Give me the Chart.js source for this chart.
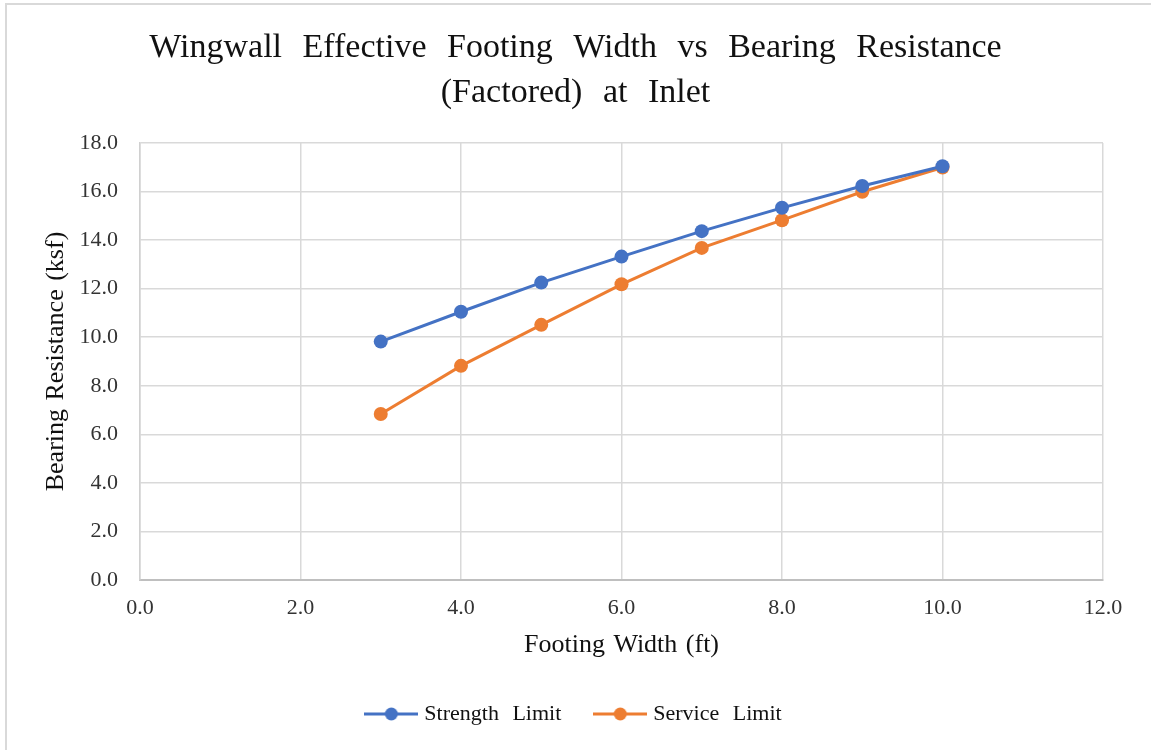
<!DOCTYPE html>
<html>
<head>
<meta charset="utf-8">
<script src="https://cdn.jsdelivr.net/npm/chart.js@4"></script>
<style>
  html, body { margin: 0; padding: 0; background: #fff; }
  #wrap { position: relative; width: 1151px; height: 750px; }
  #frame { position: absolute; left: 5px; top: 3px; right: -10px; bottom: -10px;
           border-top: 2px solid #d9d9d9; border-left: 2px solid #d9d9d9; }
  canvas { position: absolute; left: 0; top: 0; }
</style>
</head>
<body>
<div id="wrap">
  <div id="frame"></div>
  <canvas id="c" width="1151" height="750"></canvas>
</div>
<script>
const footingWidth = [3, 4, 5, 6, 7, 8, 9, 10];
const strengthLimit = [9.82, 11.05, 12.25, 13.32, 14.37, 15.33, 16.23, 17.04];
const serviceLimit  = [6.84, 8.82, 10.51, 12.18, 13.68, 14.82, 15.99, 16.99];
const seriesNames = ['Strength Limit', 'Service Limit'];
const seriesColors = ['#4472C4', '#ED7D31'];
const titleLines = ['Wingwall Effective Footing Width vs Bearing Resistance', '(Factored) at Inlet'];
const xTitle = 'Footing Width (ft)';
const yTitle = 'Bearing Resistance (ksf)';

const FONT = "'Liberation Serif', 'Times New Roman', serif";

function toPts(xs, ys) { return xs.map((x, i) => ({ x: x, y: ys[i] })); }

function legendIcon(color) {
  const c = document.createElement('canvas');
  c.width = 54; c.height = 16;
  const g = c.getContext('2d');
  g.strokeStyle = color; g.lineWidth = 3;
  g.beginPath(); g.moveTo(0, 8); g.lineTo(54, 8); g.stroke();
  g.fillStyle = color;
  g.beginPath(); g.arc(27, 8, 6.5, 0, Math.PI * 2); g.fill();
  return c;
}
const icons = seriesColors.map(legendIcon);

const canvas = document.getElementById('c');
const ctx = canvas.getContext('2d');
// Excel-like wider word spacing per text size
const origFill = ctx.fillText;
const origMeasure = ctx.measureText;
function setWS(c) {
  const f = c.font || '';
  if (f.indexOf('34px') >= 0) c.wordSpacing = '12px';
  else if (f.indexOf('22px') >= 0) c.wordSpacing = '8px';
  else c.wordSpacing = '2px';
}
ctx.fillText = function (t, x, y, mw) { setWS(this); return mw === undefined ? origFill.call(this, t, x, y) : origFill.call(this, t, x, y, mw); };
ctx.measureText = function (t) { setWS(this); return origMeasure.call(this, t); };

new Chart(ctx, {
  type: 'line',
  data: {
    datasets: [
      { label: seriesNames[0], data: toPts(footingWidth, strengthLimit), borderColor: seriesColors[0], backgroundColor: seriesColors[0],
        borderWidth: 3, pointRadius: 7, pointBorderWidth: 0, pointHoverRadius: 7, tension: 0 },
      { label: seriesNames[1], data: toPts(footingWidth, serviceLimit), borderColor: seriesColors[1], backgroundColor: seriesColors[1],
        borderWidth: 3, pointRadius: 7, pointBorderWidth: 0, pointHoverRadius: 7, tension: 0 }
    ]
  },
  options: {
    responsive: false,
    animation: false,
    devicePixelRatio: 1,
    layout: { padding: { left: 0, right: 0, top: 0, bottom: 15 } },
    plugins: {
      tooltip: { enabled: false },
      title: {
        display: true,
        text: titleLines,
        color: '#111',
        font: { family: FONT, size: 34, weight: 'normal', lineHeight: 45 / 34 },
        padding: { top: 26, bottom: 27 }
      },
      legend: {
        position: 'bottom',
        labels: {
          usePointStyle: true,
          pointStyleWidth: 44,
          padding: 37,
          color: '#111',
          font: { family: FONT, size: 22 },
          generateLabels: function (chart) {
            const items = Chart.defaults.plugins.legend.labels.generateLabels(chart);
            items.forEach((it, i) => { it.pointStyle = icons[i]; });
            return items;
          }
        }
      }
    },
    scales: {
      x: {
        type: 'linear',
        min: 0, max: 12,
        ticks: { stepSize: 2, padding: 15, color: '#333', font: { family: FONT, size: 22 },
                 callback: v => Number(v).toFixed(1) },
        grid: { color: '#d9d9d9', lineWidth: 1.5, drawTicks: false },
        border: { color: '#bfbfbf', width: 2 },
        title: { display: true, text: xTitle, color: '#111', font: { family: FONT, size: 26 }, padding: { top: 0, bottom: 5.4 } },
        afterFit: s => { s.height = 86; }
      },
      y: {
        min: 0, max: 18,
        ticks: { stepSize: 2, padding: 22, color: '#333', font: { family: FONT, size: 22 },
                 callback: v => Number(v).toFixed(1) },
        grid: { color: '#d9d9d9', lineWidth: 1.5, drawTicks: false },
        border: { color: '#d0d0d0', width: 1.5 },
        title: { display: true, text: yTitle, color: '#111', font: { family: FONT, size: 26 }, padding: { top: 41, bottom: 0 } },
        afterFit: s => { s.width = 140; }
      },
      yRightSpace: {
        position: 'right',
        min: 0, max: 18,
        grid: { display: false },
        border: { display: false },
        ticks: { display: false },
        afterFit: s => { s.width = 48; }
      }
    }
  }
});
</script>
</body>
</html>
